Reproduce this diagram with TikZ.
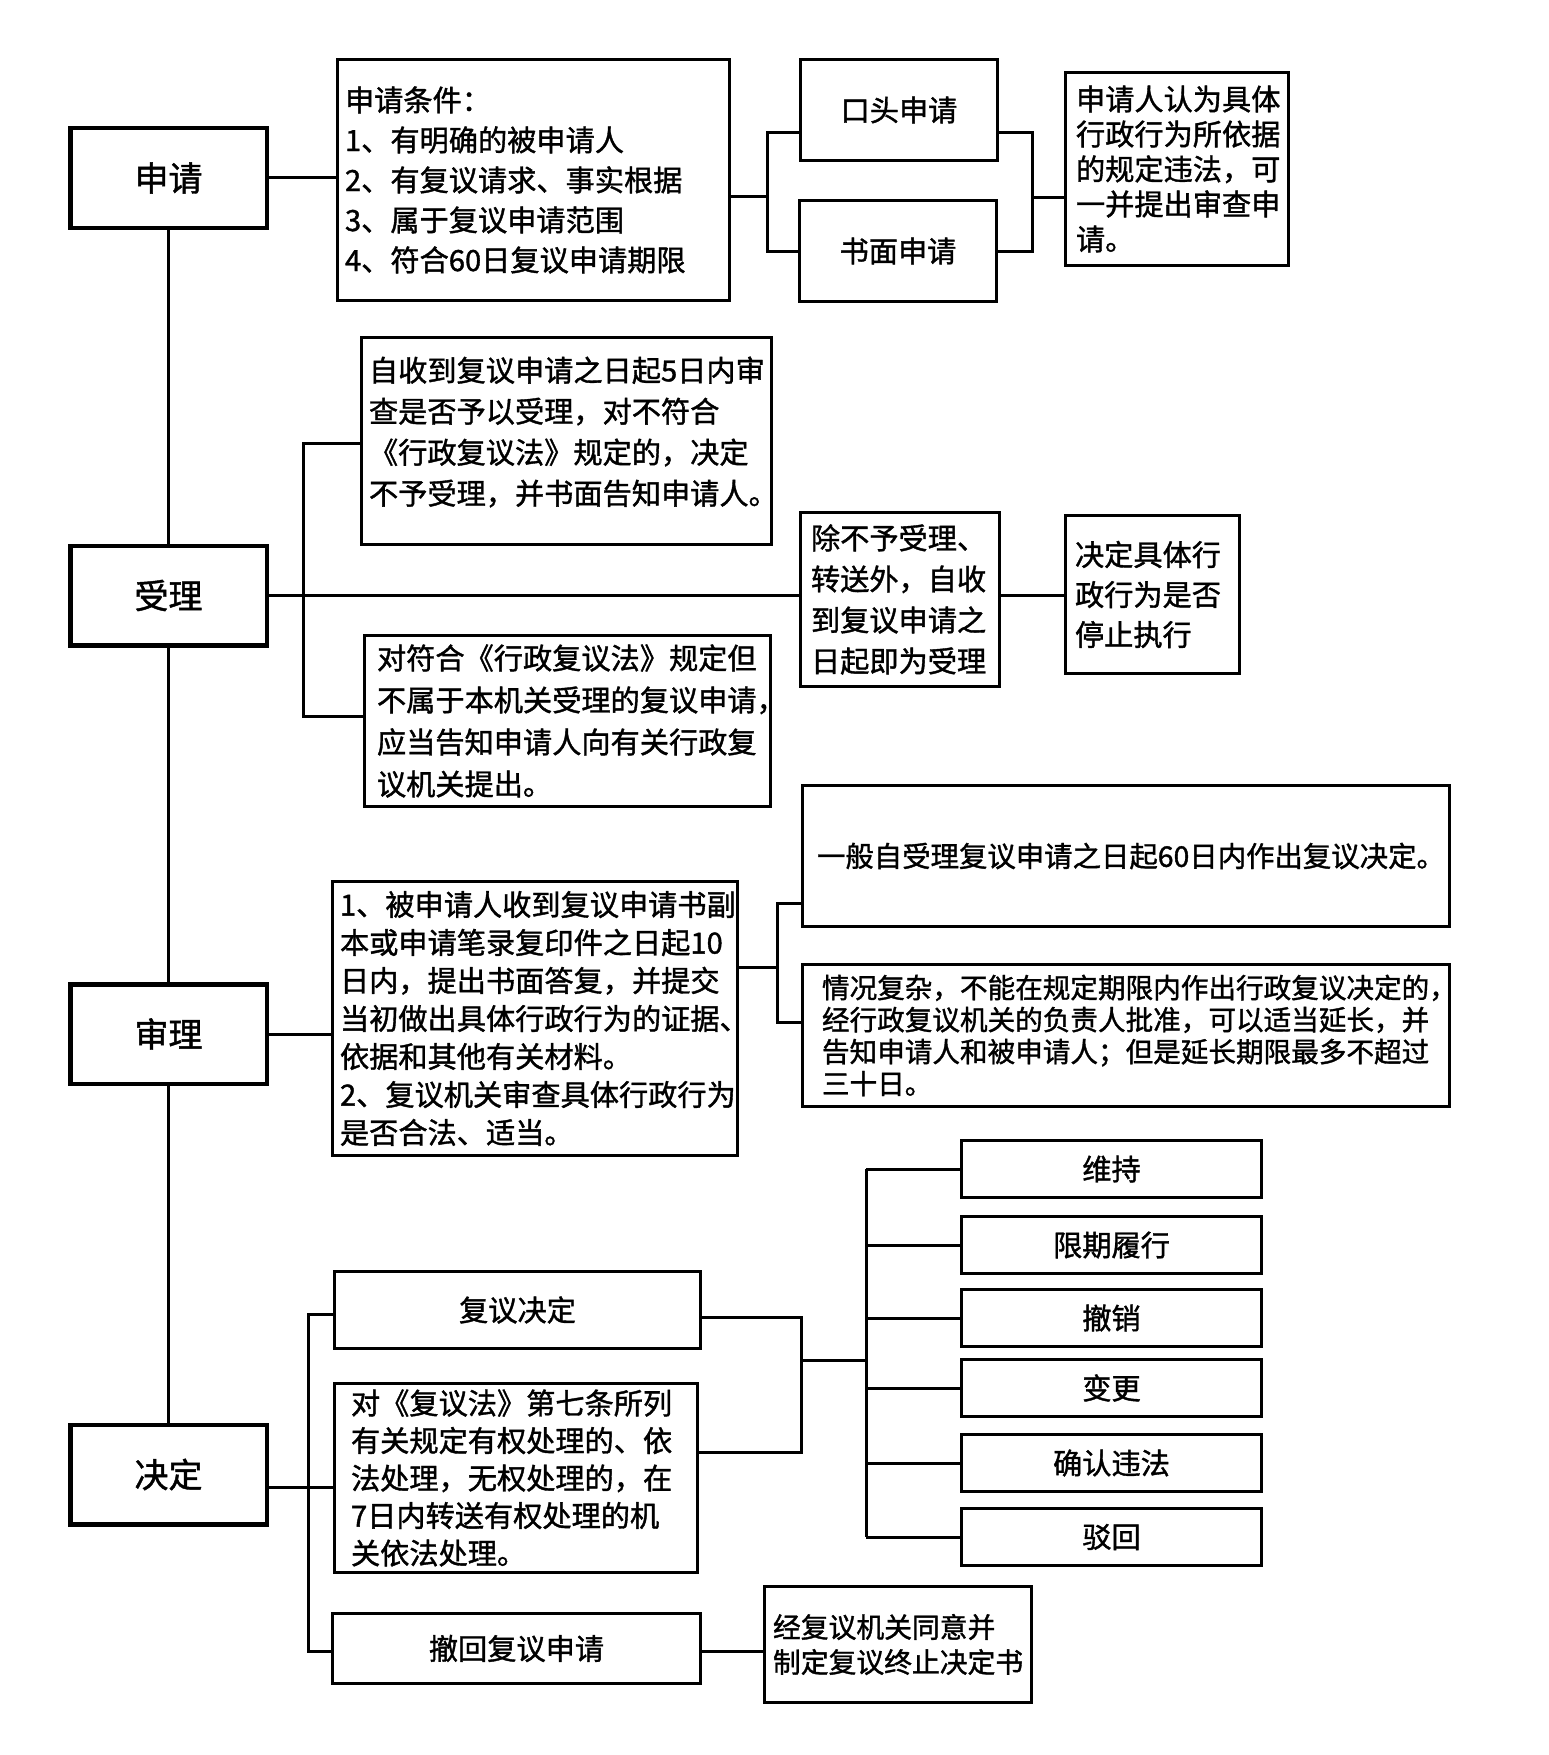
\documentclass[tikz,border=0pt]{standalone}
\usepackage{fontspec}
\newfontfamily\cjk[FakeBold=1.3]{Noto Sans CJK SC}

\begin{document}
\begin{tikzpicture}[x=1pt,y=-1pt,
    fase/.style={draw, line width=4.5pt, minimum width=196.5pt, minimum height=99.5pt, inner sep=0pt, font=\cjk\fontsize{34pt}{38pt}\selectfont},
    riquadro/.style={draw, line width=3pt, inner ysep=0pt, align=left},
    voce/.style={draw, line width=3pt, inner sep=0pt, font=\cjk\fontsize{29.2pt}{34pt}\selectfont},
    testo/.style={font=\cjk\fontsize{29.2pt}{#1}\selectfont},
    linea/.style={line width=3pt}]
        \useasboundingbox (0,0) rectangle (1548,1755); % dimensioni della figura

        % fasi principali a sinistra
        \node[fase] (sq) at (168.5,178) {申请};
        \node[fase] (sl) at (168.5,595.5) {受理};
        \node[fase] (shl) at (168.5,1034) {审理};
        \node[fase] (jd) at (168.5,1474.5) {决定};
        \draw[line width=2.5pt] (sq.south) -- (sl.north) (sl.south) -- (shl.north) (shl.south) -- (jd.north); % asse verticale

        % ramo 申请
        \node[riquadro, testo=40pt, minimum width=392pt, minimum height=241pt, text width=377pt, inner xsep=7.5pt] (tj) at (533.5,180) {申请条件：\\1、有明确的被申请人\\2、有复议请求、事实根据\\3、属于复议申请范围\\4、符合60日复议申请期限};
        \node[voce, minimum width=197pt, minimum height=101pt] (kt) at (899,110) {口头申请};
        \node[voce, minimum width=197pt, minimum height=101pt] (sm) at (898,251) {书面申请};
        \node[riquadro, testo=35pt, minimum width=223pt, minimum height=193pt, text width=202pt, inner xsep=10.5pt] (sr) at (1177,169) {申请人认为具体\\行政行为所依据\\的规定违法，可\\一并提出审查申\\请。};
        \coordinate (a0) at (767,197); % biforcazione verso i due modi
        \coordinate (a1) at (767,133);
        \coordinate (a2) at (767,251);
        \coordinate (c0) at (1032,198); % ricongiunzione a destra
        \coordinate (c1) at (1032,133);
        \coordinate (c2) at (1032,251);
        \draw[linea] (sq.east) -- (sq.east -| tj.west);
        \draw[linea] (tj.east |- a0) -- (a0);
        \draw[linea] (kt.west |- a1) -- (a1) -- (a2) -- (sm.west |- a2);
        \draw[linea] (kt.east |- c1) -- (c1) -- (c2) -- (sm.east |- c2);
        \draw[linea] (c0) -- (c0 -| sr.west);

        % ramo 受理
        \node[riquadro, testo=41pt, minimum width=410pt, minimum height=207pt, text width=395pt, inner xsep=7.5pt] (zs) at (566.5,441) {自收到复议申请之日起5日内审\\查是否予以受理，对不符合\\《行政复议法》规定的，决定\\不予受理，并书面告知申请人。\\[-20pt]\mbox{}};
        \node[riquadro, testo=42pt, minimum width=406pt, minimum height=171pt, text width=381pt, inner xsep=12.5pt] (df) at (567.5,721) {对符合《行政复议法》规定但\\不属于本机关受理的复议申请，\\应当告知申请人向有关行政复\\议机关提出。};
        \node[riquadro, testo=41pt, minimum width=199pt, minimum height=174pt, text width=178pt, inner xsep=10.5pt] (cb) at (900,599.5) {除不予受理、\\转送外，自收\\到复议申请之\\日起即为受理};
        \node[riquadro, testo=40pt, minimum width=174pt, minimum height=158pt, text width=155pt, inner xsep=9.5pt] (tz) at (1152.5,594.5) {决定具体行\\政行为是否\\停止执行};
        \coordinate (d1) at (303,443);
        \coordinate (d2) at (303,716);
        \draw[linea] (sl.east) -- (sl.east -| cb.west); % linea che attraversa la parentesi
        \draw[linea] (zs.west |- d1) -- (d1) -- (d2) -- (df.west |- d2);
        \draw[linea] (cb.east |- sl.east) -- (tz.west |- sl.east);

        % ramo 审理
        \node[riquadro, testo=38pt, minimum width=405pt, minimum height=274pt, text width=390pt, inner xsep=7.5pt] (bs) at (535,1018.5) {1、被申请人收到复议申请书副\\本或申请笔录复印件之日起10\\日内，提出书面答复，并提交\\当初做出具体行政行为的证据、\\依据和其他有关材料。\\2、复议机关审查具体行政行为\\是否合法、适当。};
        \node[riquadro, font=\cjk\fontsize{28.4pt}{34pt}\selectfont, minimum width=647pt, minimum height=141pt, text width=618pt, inner xsep=14.5pt] (yb) at (1126,856) {一般自受理复议申请之日起60日内作出复议决定。};
        \node[riquadro, font=\cjk\fontsize{27.6pt}{32pt}\selectfont, minimum width=647pt, minimum height=142pt, text width=608pt, inner xsep=19.5pt] (qk) at (1126,1035.5) {情况复杂，不能在规定期限内作出行政复议决定的，\\经行政复议机关的负责人批准，可以适当延长，并\\告知申请人和被申请人；但是延长期限最多不超过\\三十日。};
        \coordinate (e0) at (777,967);
        \coordinate (e1) at (777,903);
        \coordinate (e2) at (777,1022);
        \draw[linea] (shl.east) -- (shl.east -| bs.west);
        \draw[linea] (bs.east |- e0) -- (e0);
        \draw[linea] (yb.west |- e1) -- (e1) -- (e2) -- (qk.west |- e2);

        % ramo 决定
        \node[voce, minimum width=366pt, minimum height=77pt] (fj) at (517.5,1310) {复议决定};
        \node[riquadro, testo=37.5pt, minimum width=363pt, minimum height=189pt, text width=330pt, inner xsep=16.5pt] (dq) at (516,1478) {对《复议法》第七条所列\\有关规定有权处理的、依\\法处理，无权处理的，在\\7日内转送有权处理的机\\关依法处理。};
        \node[voce, minimum width=368pt, minimum height=70pt] (ch) at (516.5,1648.5) {撤回复议申请};
        \node[riquadro, font=\cjk\fontsize{27.8pt}{35pt}\selectfont, minimum width=267pt, minimum height=116pt, text width=250pt, inner xsep=8.5pt] (jf) at (898,1644.5) {经复议机关同意并\\制定复议终止决定书};
        \coordinate (f0) at (308,1487);
        \coordinate (f1) at (308,1314);
        \coordinate (f2) at (308,1651);
        \draw[linea] (jd.east |- f0) -- (dq.west |- f0);
        \draw[linea] (fj.west |- f1) -- (f1) -- (f2) -- (ch.west |- f2);
        \draw[linea] (ch.east |- f2) -- (jf.west |- f2);

        % esiti della decisione
        \foreach \nome/\y/\t in {ws/1169/维持, xq/1245/限期履行, cx/1318/撤销, bg/1388/变更, qr/1463/确认违法, bh/1537/驳回}
            \node[voce, minimum width=300pt, minimum height=57pt] (\nome) at (1111.5,\y) {\t};
        \coordinate (g0) at (801,1360);
        \coordinate (g1) at (801,1317);
        \coordinate (g2) at (801,1452);
        \coordinate (h0) at (866,1360);
        \draw[linea] (fj.east |- g1) -- (g1) -- (g2) -- (dq.east |- g2);
        \draw[linea] (g0) -- (h0);
        \draw[linea] (ws.west -| h0) -- (bh.west -| h0);
        \foreach \nome in {ws,xq,cx,bg,qr,bh}
            \draw[linea] (\nome.west -| h0) -- (\nome.west);
    \end{tikzpicture}
\end{document}
